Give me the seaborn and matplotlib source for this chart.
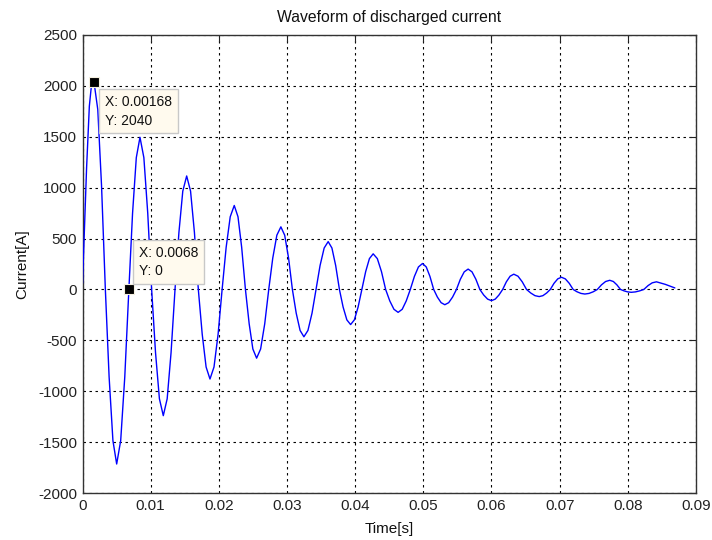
import matplotlib
matplotlib.use("Agg")
import matplotlib.pyplot as plt
import seaborn as sns
import pandas as pd

# Sampled discharge current (time in seconds, current in amperes)
time_s = [
    0.0, 0.0002, 0.0006, 0.0010, 0.0013, 0.00168,
    0.00224, 0.00279, 0.00335, 0.00390, 0.00446, 0.00501,
    0.00560, 0.00620, 0.0068, 0.00734, 0.00789, 0.00843,
    0.00900, 0.00957, 0.01014, 0.01071, 0.01128, 0.01185,
    0.01242, 0.01299, 0.01357, 0.01414, 0.01471, 0.01528,
    0.01585, 0.01642, 0.01699, 0.01756, 0.01813, 0.0187,
    0.01929, 0.01989, 0.02048, 0.02107, 0.02167, 0.02226,
    0.02281, 0.02335, 0.0239, 0.02445, 0.02499, 0.02554,
    0.02613, 0.02673, 0.02732, 0.02791, 0.02851, 0.0291,
    0.02966, 0.03023, 0.03079, 0.03135, 0.03192, 0.03248,
    0.03307, 0.03367, 0.03426, 0.03485, 0.03545, 0.03604,
    0.03659, 0.03714, 0.03769, 0.03823, 0.03878, 0.03933,
    0.03988, 0.04043, 0.04099, 0.04154, 0.04209, 0.04264,
    0.04325, 0.04386, 0.04447, 0.04508, 0.04569, 0.0463,
    0.0469, 0.04749, 0.04809, 0.04869, 0.04928, 0.04988,
    0.05043, 0.05097, 0.05152, 0.05206, 0.05261, 0.05315,
    0.05372, 0.05429, 0.05486, 0.05543, 0.056, 0.05657,
    0.05714, 0.05771, 0.05829, 0.05886, 0.05943, 0.06,
    0.06055, 0.06109, 0.06164, 0.06218, 0.06273, 0.06327,
    0.06389, 0.06451, 0.06514, 0.06576, 0.06638, 0.067,
    0.06754, 0.06809, 0.06863, 0.06917, 0.06972, 0.07026,
    0.07083, 0.07141, 0.07198, 0.07255, 0.07313, 0.0737,
    0.07431, 0.07492, 0.07553, 0.07613, 0.07674, 0.07735,
    0.07788, 0.0784, 0.07893, 0.07945, 0.07998, 0.0805,
    0.08112, 0.08173, 0.08235, 0.08297, 0.08358, 0.0842,
    0.0855, 0.0869,
]

current_a = [
    60, 450, 1200, 1800, 2000, 2040,
    1767, 1020, 0, -858, -1485, -1715,
    -1485, -858, 0, 748, 1295, 1495,
    1295, 748, 0, -620, -1074, -1240,
    -1074, -620, 0, 558, 966, 1115,
    966, 558, 0, -440, -762, -880,
    -762, -440, 0, 413, 714, 825,
    714, 413, 0, -338, -585, -675,
    -585, -338, 0, 308, 533, 615,
    533, 308, 0, -233, -403, -465,
    -403, -233, 0, 235, 407, 470,
    407, 235, 0, -173, -299, -345,
    -299, -173, 0, 175, 303, 350,
    303, 175, 0, -113, -195, -225,
    -195, -113, 0, 128, 221, 255,
    221, 128, 0, -75, -130, -150,
    -130, -75, 0, 100, 173, 200,
    173, 100, 0, -55, -95, -110,
    -95, -55, 0, 75, 130, 150,
    130, 75, 0, -35, -61, -70,
    -61, -35, 0, 60, 104, 120,
    104, 60, 0, -23, -39, -45,
    -39, -23, 0, 45, 78, 90,
    78, 45, 0, -14, -24, -28,
    -24, -14, 0, 38, 65, 75,
    50, 15,
]

# Data cursor readouts
tip_x = [0.00168, 0.0068]
tip_y = [2040, 0]
tip_labels = ["X: 0.00168\nY: 2040", "X: 0.0068\nY: 0"]

x_ticks = [0, 0.01, 0.02, 0.03, 0.04, 0.05, 0.06, 0.07, 0.08, 0.09]
x_tick_labels = ["0", "0.01", "0.02", "0.03", "0.04", "0.05", "0.06", "0.07", "0.08", "0.09"]
y_ticks = [-2000, -1500, -1000, -500, 0, 500, 1000, 1500, 2000, 2500]

sns.set_style("white")
plt.rcParams["font.family"] = ["Liberation Sans", "DejaVu Sans"]

df = pd.DataFrame({"Time[s]": time_s, "Current[A]": current_a})

fig = plt.figure(figsize=(7.12, 5.40), dpi=100)
ax = fig.add_axes([0.1159, 0.087, 0.8616, 0.8482])

sns.lineplot(data=df, x="Time[s]", y="Current[A]", ax=ax, color="#0000ff",
             linewidth=1.0, sort=False, estimator=None, zorder=3)

ax.set_xlim(0, 0.09)
ax.set_ylim(-2000, 2500)
ax.set_xticks(x_ticks)
ax.set_xticklabels(x_tick_labels)
ax.set_yticks(y_ticks)
ax.set_yticklabels([str(v) for v in y_ticks])

ax.grid(True, color="black", linestyle=(0, (2.2, 3.2)), linewidth=0.8, zorder=1)
ax.tick_params(direction="in", length=5, width=0.8, top=True, right=True,
               labelsize=11, colors="#222222", pad=4)
for sp in ax.spines.values():
    sp.set_color("#333333")
    sp.set_linewidth(1.0)
    sp.set_visible(True)

ax.set_title("Waveform of discharged current", fontsize=11.3, pad=9, color="#111111")
ax.set_xlabel("Time[s]", fontsize=11, labelpad=7, color="#111111")
ax.set_ylabel("Current[A]", fontsize=11, labelpad=6, color="#111111")

# Data cursor markers and boxes
ax.plot(tip_x, tip_y, linestyle="none", marker="s", markersize=7.5,
        markerfacecolor="black", markeredgecolor="#f5f0e0", markeredgewidth=0.8,
        zorder=5)
box = dict(boxstyle="square,pad=0.4", facecolor="#fffaee", edgecolor="#c8c8c8",
           linewidth=1.0)
ax.annotate(tip_labels[0], xy=(tip_x[0], tip_y[0]), xytext=(11, -13),
            textcoords="offset pixels", ha="left", va="top", fontsize=10,
            color="#111111", bbox=box, linespacing=1.45, zorder=6)
ax.annotate(tip_labels[1], xy=(tip_x[1], tip_y[1]), xytext=(10, 11),
            textcoords="offset pixels", ha="left", va="bottom", fontsize=10,
            color="#111111", bbox=box, linespacing=1.45, zorder=6)

fig.savefig("out.png", dpi=100, facecolor="white")
